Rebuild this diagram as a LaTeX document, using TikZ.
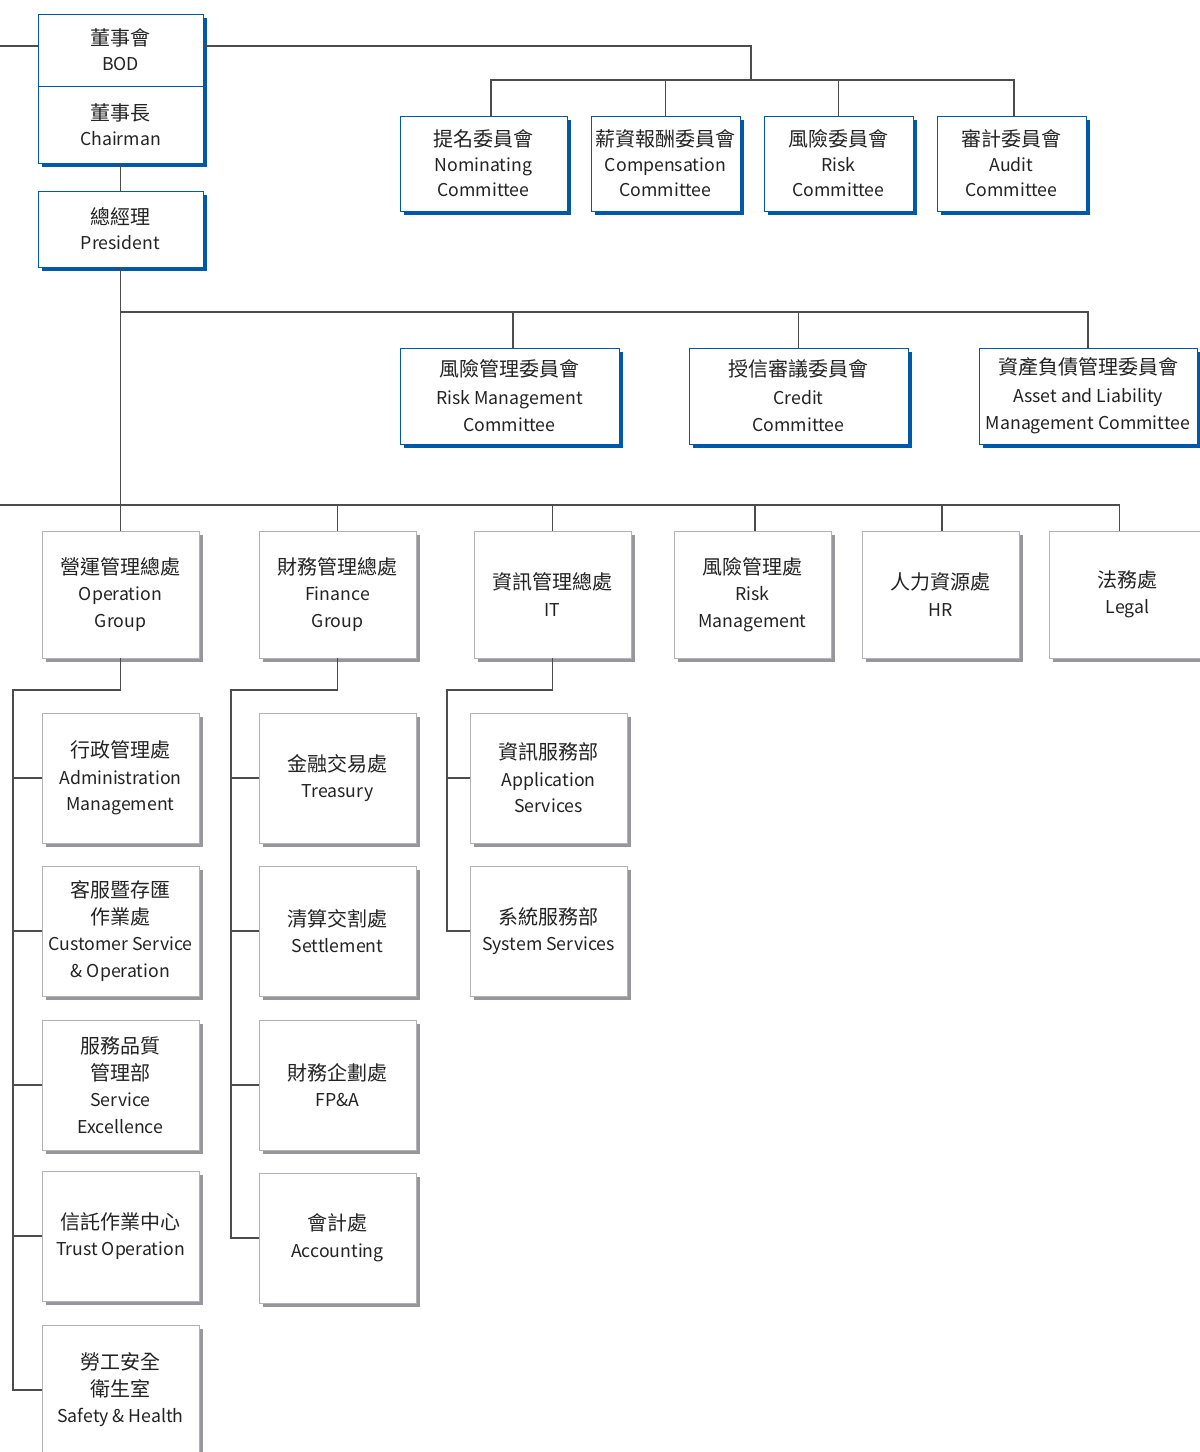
\documentclass[tikz,border=0pt]{standalone}
\usepackage{fontspec}
\setmainfont{Noto Sans CJK TC}
\usetikzlibrary{shadows}
\definecolor{bodblue}{RGB}{0,88,168}
\definecolor{shadegray}{RGB}{150,150,156}
\definecolor{inkgray}{RGB}{35,35,35}
\newcommand{\zh}[1]{{\fontsize{20}{25}\selectfont #1}}
\tikzset{
  topbox/.style={draw=bodblue, line width=0.9pt, fill=white, align=center, inner sep=0pt,
    text=inkgray, font=\fontsize{17.7}{25}\selectfont,
    drop shadow={shadow xshift=4pt, shadow yshift=-4pt, fill=bodblue, opacity=1}},
  mgmtbox/.style={topbox, font=\fontsize{17.7}{27.5}\selectfont},
  deptbox/.style={draw=black!30, line width=0.9pt, fill=white, align=center, inner sep=0pt,
    text=inkgray, font=\fontsize{17.7}{26.5}\selectfont,
    minimum width=157pt, drop shadow={shadow xshift=4pt, shadow yshift=-4pt, fill=shadegray, opacity=1}},
  link/.style={draw=black!70, line width=1.3pt}
}
\begin{document}
\begin{tikzpicture}[x=1pt, y=-1pt]
    \useasboundingbox (0,0) rectangle (1200,1452);
    \clip (0,0) rectangle (1200,1452);
    \fill[white] (0,0) rectangle (1200,1452);

    % Board and management
    \node[topbox, minimum width=165pt, minimum height=72pt] (bod) at (120.5, 50) {\zh{董事會}\\BOD};
    \node[topbox, minimum width=165pt, minimum height=77pt] (chair) at (120.5, 124.5) {\zh{董事長}\\Chairman};
    \node[topbox, minimum width=165pt, minimum height=76pt] (pres) at (120.5, 229) {\zh{總經理}\\President};

    % Board committees
    \node[topbox, minimum width=167pt, minimum height=95pt] (nom) at (483.5, 163.5) {\zh{提名委員會}\\Nominating\\Committee};
    \node[topbox, minimum width=149pt, minimum height=95pt] (comp) at (665.5, 163.5) {\zh{薪資報酬委員會}\\Compensation\\Committee};
    \node[topbox, minimum width=149pt, minimum height=95pt] (riskc) at (838.5, 163.5) {\zh{風險委員會}\\Risk\\Committee};
    \node[topbox, minimum width=149pt, minimum height=95pt] (audit) at (1011.5, 163.5) {\zh{審計委員會}\\Audit\\Committee};

    % Management committees
    \node[mgmtbox, minimum width=219pt, minimum height=96pt] (rmc) at (509.5, 396) {\zh{風險管理委員會}\\Risk Management\\Committee};
    \node[mgmtbox, minimum width=219pt, minimum height=96pt] (credit) at (798.5, 396) {\zh{授信審議委員會}\\Credit\\Committee};
    \node[mgmtbox, minimum width=218pt, minimum height=96pt] (alm) at (1088, 396) {\zh{資產負債管理委員會}\\Asset and Liability\\Management Committee};

    % Divisions
    \node[deptbox, minimum height=127pt] (opg) at (120.5, 594.5) {\zh{營運管理總處}\\Operation\\Group};
    \node[deptbox, minimum height=127pt] (fin) at (337.5, 594.5) {\zh{財務管理總處}\\Finance\\Group};
    \node[deptbox, minimum height=127pt] (itg) at (552.5, 594.5) {\zh{資訊管理總處}\\IT};
    \node[deptbox, minimum height=127pt] (rmd) at (752.5, 594.5) {\zh{風險管理處}\\Risk\\Management};
    \node[deptbox, minimum height=127pt] (hr) at (940.5, 594.5) {\zh{人力資源處}\\HR};
    \node[deptbox, minimum height=127pt] (legal) at (1127.5, 594.5) {\zh{法務處}\\Legal};

    % Operation units
    \node[deptbox, minimum height=130pt] (adm) at (120.5, 778) {\zh{行政管理處}\\Administration\\Management};
    \node[deptbox, minimum height=130pt] (csop) at (120.5, 931) {\zh{客服暨存匯}\\\zh{作業處}\\Customer Service\\\& Operation};
    \node[deptbox, minimum height=130pt] (svex) at (120.5, 1085) {\zh{服務品質}\\\zh{管理部}\\Service\\Excellence};
    \node[deptbox, minimum height=130pt] (trust) at (120.5, 1236) {\zh{信託作業中心}\\Trust Operation};
    \node[deptbox, minimum height=130pt] (safety) at (120.5, 1390) {\zh{勞工安全}\\\zh{衛生室}\\Safety \& Health};

    % Finance units
    \node[deptbox, minimum height=130pt] (treas) at (337.5, 778) {\zh{金融交易處}\\Treasury};
    \node[deptbox, minimum height=130pt] (settle) at (337.5, 931) {\zh{清算交割處}\\Settlement};
    \node[deptbox, minimum height=130pt] (fpa) at (337.5, 1085) {\zh{財務企劃處}\\FP\&A};
    \node[deptbox, minimum height=130pt] (acct) at (337.5, 1238) {\zh{會計處}\\Accounting};

    % IT units
    \node[deptbox, minimum height=130pt] (apps) at (548.5, 778) {\zh{資訊服務部}\\Application\\Services};
    \node[deptbox, minimum height=130pt] (syss) at (548.5, 931) {\zh{系統服務部}\\System Services};

    % Bus points
    \coordinate (bodl) at (0, 46);
    \coordinate (cbus) at (751, 80);
    \coordinate (mbus) at (120.5, 312);
    \coordinate (dbus) at (0, 505);
    \coordinate (obus) at (13, 690);
    \coordinate (fbus) at (231, 690);
    \coordinate (ibus) at (447, 690);

    % Board lines
    \draw[link] (bodl) -- (bodl -| bod.west);
    \draw[link] (bodl -| bod.east) -| (cbus);
    \draw[link] ([xshift=7.5pt]nom.north) |- (cbus) -| ([xshift=2.5pt]audit.north);
    \draw[link] (comp.north) -- (comp.north |- cbus);
    \draw[link] (riskc.north) -- (riskc.north |- cbus);
    \draw[link] (chair.south) -- (pres.north);

    % Committee lines
    \draw[link] (pres.south) -- (opg.north);
    \draw[link] (mbus) -| (alm.north);
    \draw[link] ([xshift=3.5pt]rmc.north) -- ([xshift=3.5pt]rmc.north |- mbus);
    \draw[link] (credit.north) -- (credit.north |- mbus);

    % Division lines
    \draw[link] (dbus) -| ([xshift=-8pt]legal.north);
    \draw[link] (fin.north) -- (fin.north |- dbus);
    \draw[link] (itg.north) -- (itg.north |- dbus);
    \draw[link] ([xshift=2.5pt]rmd.north) -- ([xshift=2.5pt]rmd.north |- dbus);
    \draw[link] ([xshift=1.5pt]hr.north) -- ([xshift=1.5pt]hr.north |- dbus);

    % Operation lines
    \draw[link] (opg.south) |- (obus) |- (safety.west);
    \draw[link] (obus |- adm.west) -- (adm.west);
    \draw[link] (obus |- csop.west) -- (csop.west);
    \draw[link] (obus |- svex.west) -- (svex.west);
    \draw[link] (obus |- trust.west) -- (trust.west);

    % Finance lines
    \draw[link] (fin.south) |- (fbus) |- (acct.west);
    \draw[link] (fbus |- treas.west) -- (treas.west);
    \draw[link] (fbus |- settle.west) -- (settle.west);
    \draw[link] (fbus |- fpa.west) -- (fpa.west);

    % IT lines
    \draw[link] (itg.south) |- (ibus) |- (syss.west);
    \draw[link] (ibus |- apps.west) -- (apps.west);
\end{tikzpicture}
\end{document}
